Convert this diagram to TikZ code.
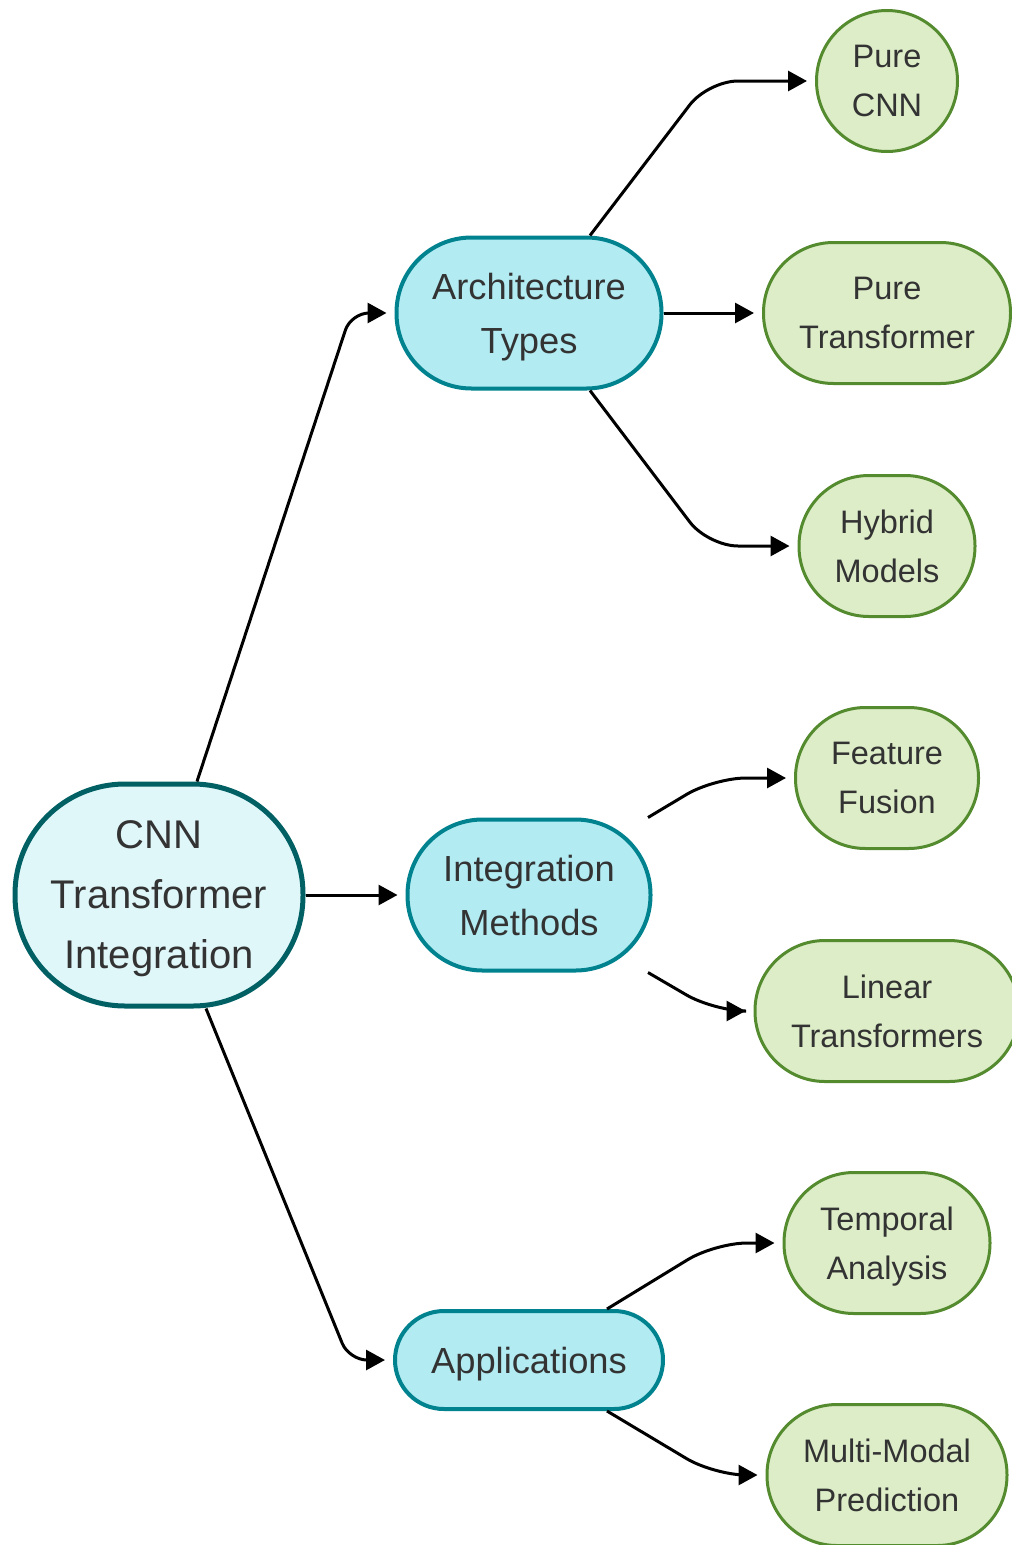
\documentclass[tikz,border=0pt]{standalone}
\usepackage{fontspec}
\setmainfont{Liberation Sans}
\usetikzlibrary{arrows.meta}
\definecolor{rootline}{HTML}{006064}
\definecolor{rootfill}{HTML}{E0F7FA}
\definecolor{midline}{HTML}{00838F}
\definecolor{midfill}{HTML}{B2EBF2}
\definecolor{leafline}{HTML}{558B2F}
\definecolor{leaffill}{HTML}{DCEDC8}
\definecolor{txt}{HTML}{333333}
\begin{document}
\begin{tikzpicture}[x=1pt,y=-1pt,
  base/.style={inner sep=0pt, align=center, text=txt, text depth=0pt},
  rootbox/.style={base, draw=rootline, fill=rootfill, line width=5pt,
    rounded corners=110pt, minimum width=288pt, minimum height=222pt,
    font=\fontsize{40}{60}\selectfont},
  midbox/.style={base, draw=midline, fill=midfill, line width=4pt,
    font=\fontsize{36.3}{54}\selectfont},
  leafbox/.style={base, draw=leafline, fill=leaffill, line width=3pt,
    minimum height=141pt, rounded corners=70pt,
    font=\fontsize{32.5}{49}\selectfont},
  link/.style={draw=black, line width=3pt,
    -{Triangle[length=19pt,width=20pt]}, shorten >=8pt},
]
\useasboundingbox (0,0) rectangle (1012,1545);

% root
\node[rootbox] (root) at (159,895) {CNN\\Transformer\\Integration};

% second level
\node[midbox, minimum width=265pt, minimum height=151pt, rounded corners=75pt]
  (arch) at (529,313) {Architecture\\Types};
\node[midbox, minimum width=243pt, minimum height=151pt, rounded corners=75pt]
  (integ) at (529,895) {Integration\\Methods};
\node[midbox, minimum width=268pt, minimum height=98pt, rounded corners=49pt]
  (apps) at (529,1360) {Applications};

% leaves
\node[leafbox, circle, minimum size=141pt] (pcnn) at (887,81) {Pure\\CNN};
\node[leafbox, minimum width=247pt] (ptrans) at (887,313) {Pure\\Transformer};
\node[leafbox, minimum width=176pt] (hybrid) at (887,546) {Hybrid\\Models};
\node[leafbox, minimum width=183pt] (fusion) at (887,778) {Feature\\Fusion};
\node[leafbox, minimum width=264pt] (linear) at (887,1011) {Linear\\Transformers};
\node[leafbox, minimum width=206pt] (temporal) at (887,1243) {Temporal\\Analysis};
\node[leafbox, minimum width=240pt] (multi) at (887,1475) {Multi-Modal\\Prediction};

% bend points of the connectors
\coordinate (b1) at (351,313);
\coordinate (b2) at (349,1360);
\coordinate (b3) at (708,81);
\coordinate (b4) at (708,546);
\coordinate (b5) at (714,778);
\coordinate (b6) at (714,1011);
\coordinate (b7) at (715,1243);
\coordinate (b8) at (714,1475);

% connectors from the root
\draw[link, rounded corners=18pt] ([xshift=38pt]root.north) -- (b1) -- (arch.west);
\draw[link] (root.east) -- (integ.west);
\draw[link, rounded corners=18pt] ([xshift=47pt]root.south) -- (b2) -- (apps.west);

% architecture types
\draw[link, rounded corners=30pt] ([xshift=61pt]arch.north) -- (b3) -- (pcnn.west);
\draw[link] (arch.east) -- (ptrans.west);
\draw[link, rounded corners=30pt] ([xshift=61pt]arch.south) -- (b4) -- (hybrid.west);

% integration methods
\draw[link, rounded corners=32pt] ([xshift=119pt]integ.north) -- (b5) -- (fusion.west);
\draw[link, rounded corners=32pt] ([xshift=119pt]integ.south) -- (b6) -- (linear.west);

% applications
\draw[link, rounded corners=32pt] ([xshift=78pt]apps.north) -- (b7) -- (temporal.west);
\draw[link, rounded corners=32pt] ([xshift=78pt]apps.south) -- (b8) -- (multi.west);
\end{tikzpicture}
\end{document}
